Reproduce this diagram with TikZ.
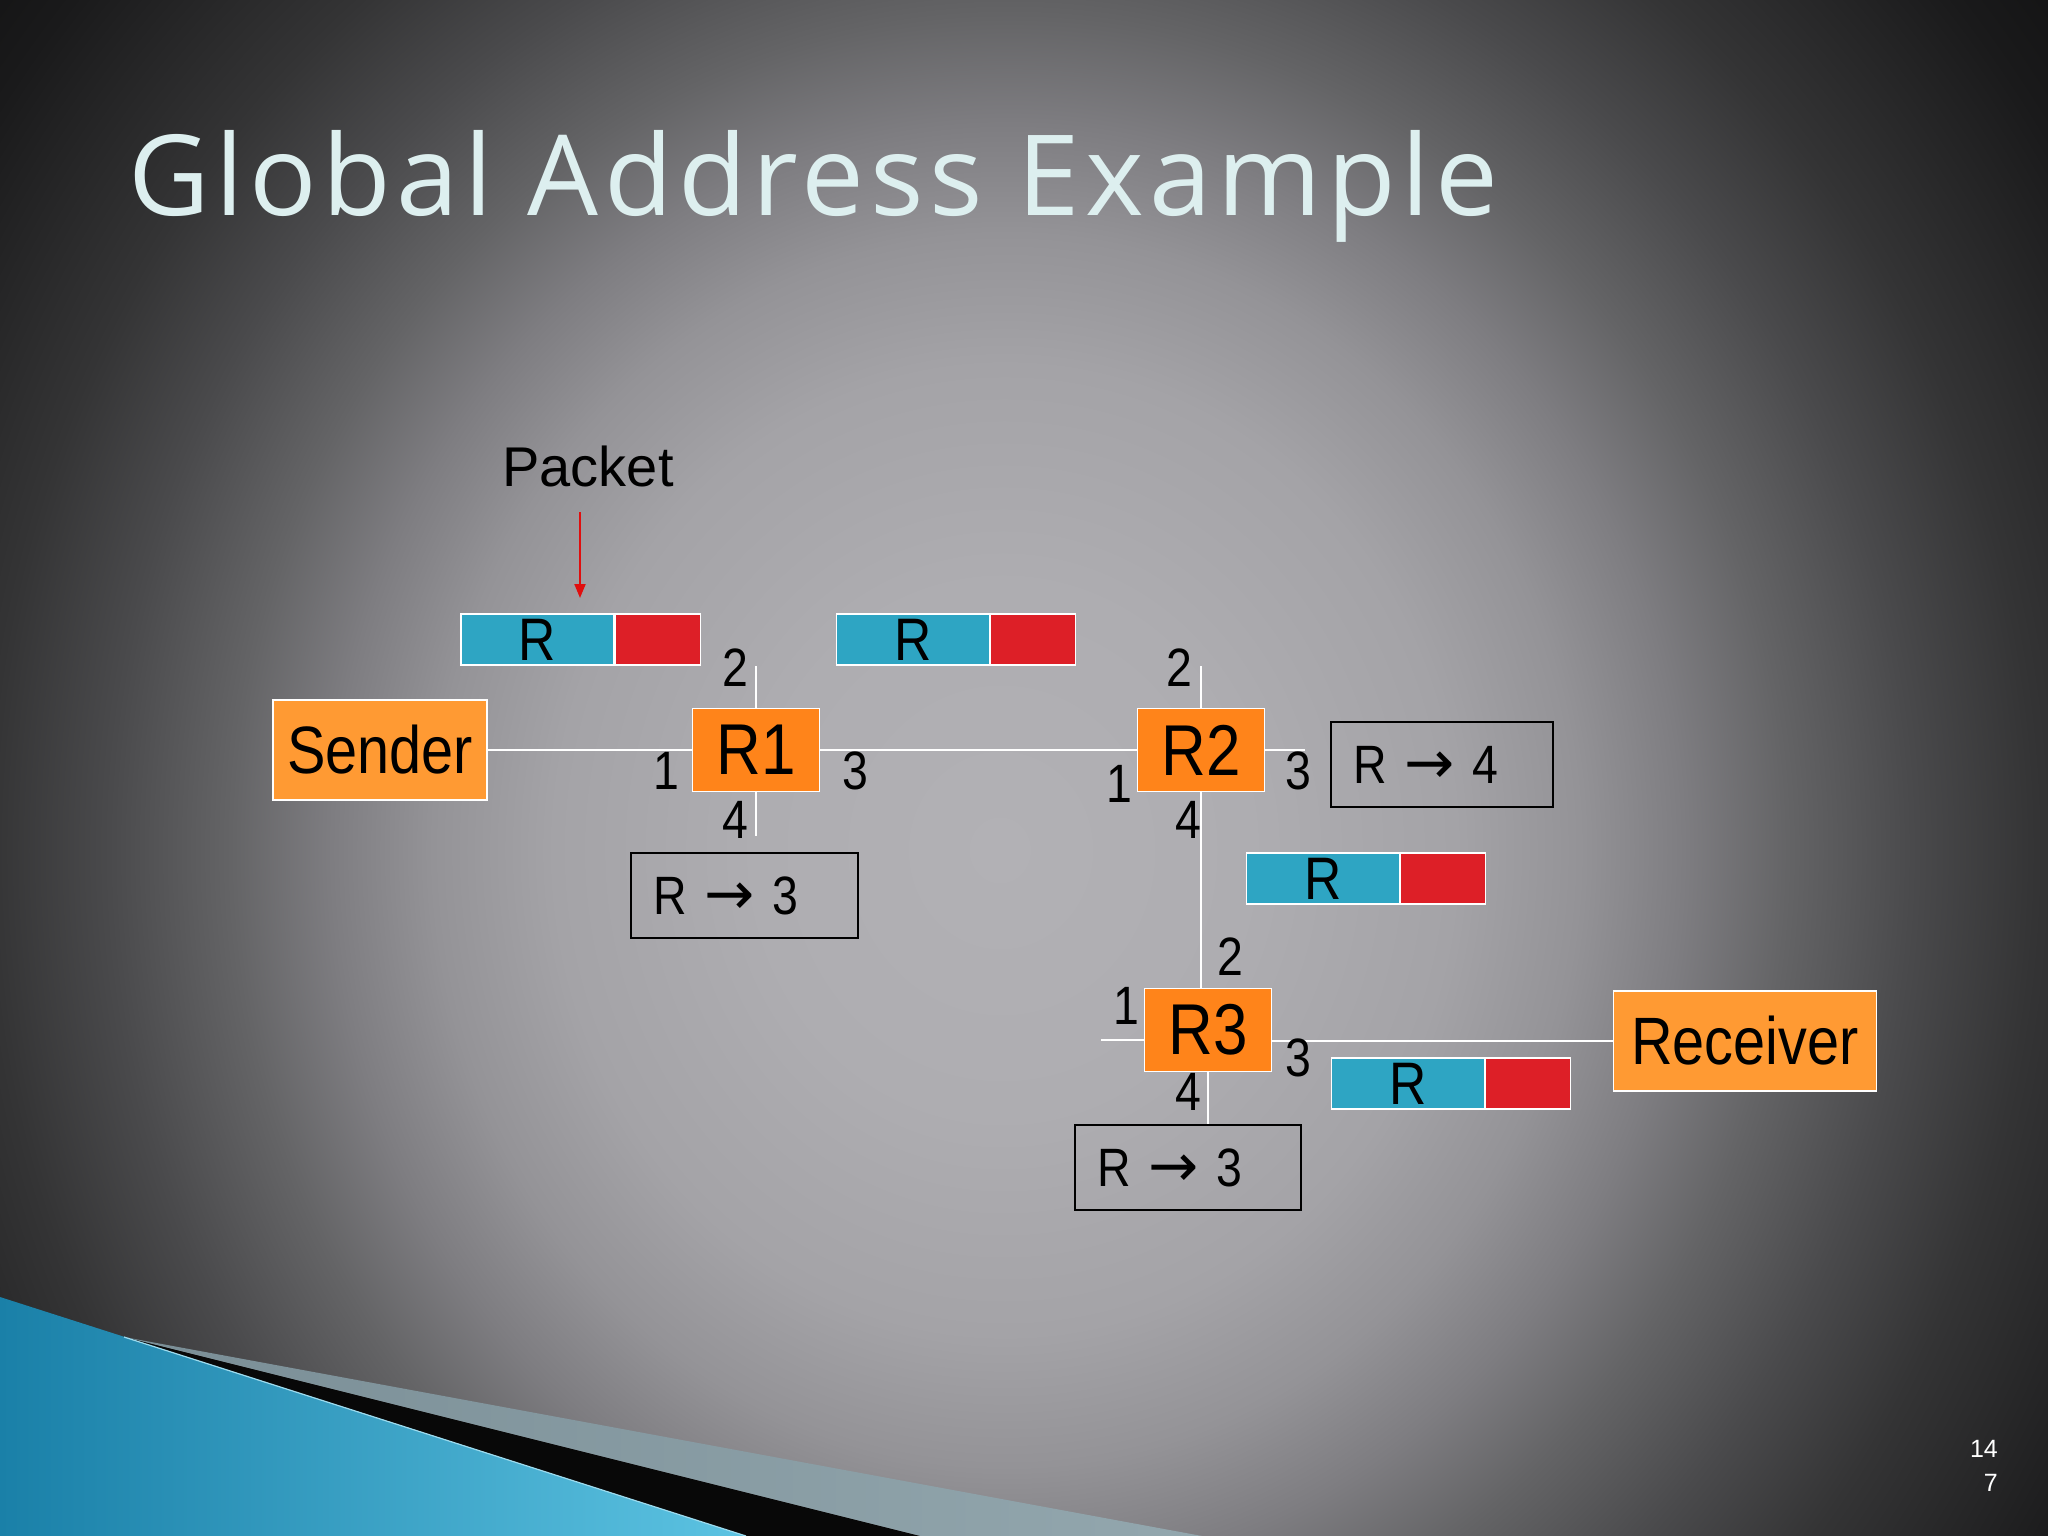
\documentclass[tikz,border=0pt]{standalone}
\usepackage{fontspec}
\setmainfont{Liberation Sans}
\newfontfamily\diafont[FakeStretch=0.86]{Liberation Sans}
\newfontfamily\plainfont{Liberation Sans}
\newfontfamily\titlefont[LetterSpace=5.0]{Open Sans}
\newfontfamily\arrowfont{DejaVu Sans}
\usetikzlibrary{arrows.meta}
\definecolor{bgc0}{HTML}{B2B1B5}
\definecolor{bgc1}{HTML}{AEADB1}
\definecolor{bgc2}{HTML}{A4A3A7}
\definecolor{bgc3}{HTML}{949397}
\definecolor{bgc4}{HTML}{7E7D81}
\definecolor{bgc5}{HTML}{646466}
\definecolor{bgc6}{HTML}{4A4A4C}
\definecolor{bgc7}{HTML}{343435}
\definecolor{bgc8}{HTML}{1A1A1B}
\definecolor{bgc9}{HTML}{080808}
\definecolor{bgc10}{HTML}{000000}
\definecolor{endorange}{HTML}{FF9A33}
\definecolor{rtorange}{HTML}{FF841A}
\definecolor{pktblue}{HTML}{2EA5C3}
\definecolor{pktred}{HTML}{DD1F27}
\definecolor{titlecol}{HTML}{DDEFEF}
\definecolor{blueA}{HTML}{1A80A8}
\definecolor{blueB}{HTML}{5CC3E2}
\definecolor{stripeA}{HTML}{7A8E96}
\definecolor{stripeB}{HTML}{93A7AE}
\definecolor{arrred}{HTML}{E00E0E}
\pgfdeclareradialshading{bgshade}{\pgfpoint{-0.6bp}{0bp}}{color(0bp)=(bgc0); color(6bp)=(bgc1); color(11bp)=(bgc2); color(14bp)=(bgc3); color(16.5bp)=(bgc4); color(19bp)=(bgc5); color(22bp)=(bgc6); color(25bp)=(bgc7); color(30bp)=(bgc8); color(36bp)=(bgc9); color(50bp)=(bgc10)}
\newcommand{\rarr}{{\arrowfont\fontsize{60}{60}\selectfont →}}
\begin{document}
\begin{tikzpicture}[x=1pt,y=-1pt,
  wire/.style={draw=white,line width=2.2pt},
  endbox/.style={draw=white,line width=1.6pt,fill=endorange,minimum width=#1,minimum height=100pt,inner sep=0pt,font=\diafont\fontsize{67}{70}\selectfont},
  router/.style={draw=white,line width=1.6pt,fill=rtorange,minimum width=127pt,minimum height=83pt,inner sep=0pt,font=\diafont\fontsize{72}{74}\selectfont},
  tbl/.style={draw=black,line width=1.8pt,minimum height=85pt,text width=#1,align=left,inner xsep=22pt,inner ysep=0pt,font=\diafont\fontsize{54}{56}\selectfont},
  pblue/.style={draw=white,line width=1.2pt,fill=pktblue,minimum width=153pt,minimum height=51pt,inner sep=0pt,font=\diafont\fontsize{60}{60}\selectfont},
  pred/.style={draw=white,line width=1.2pt,fill=pktred,minimum width=85pt,minimum height=51pt,inner sep=0pt},
  port/.style={inner sep=0pt,font=\diafont\fontsize{54}{56}\selectfont},
  redarrow/.style={draw=arrred,line width=2pt,-{Triangle[length=14pt,width=11pt]}}
]
\useasboundingbox (0,0) rectangle (2048,1536);
% background
\begin{scope}
\clip (0,0) rectangle (2048,1536);
\shade[shading=bgshade] (0,-250) rectangle (2048,1950);
\end{scope}
% bottom-left decoration
\shade[left color=stripeA,right color=stripeB] (124,1337) -- (920,1536) -- (1202,1536) -- cycle;
\fill[black!97] (124,1337) -- (746,1536) -- (920,1536) -- cycle;
\shade[left color=blueA,right color=blueB] (0,1297) -- (746,1536) -- (0,1536) -- cycle;
\draw[color=blueB!60!white,line width=1.2pt] (124,1337) -- (746,1536);

% title
\node[anchor=base west,inner sep=0pt,font=\titlefont\fontsize{112}{124}\selectfont,text=titlecol] (title) at (128,215) {Global Address Example};

% end hosts and routers
\node[endbox=214pt] (sender) at (380,750) {Sender};
\node[endbox=263pt] (receiver) at (1745,1041) {Receiver};
\node[router] (r1) at (756,750) {R1};
\node[router] (r2) at (1201,750) {R2};
\node[router] (r3) at (1208,1030) {R3};

% forwarding tables
\node[tbl=183pt] (t1) at (744.5,895.5) {R \rarr{} 3};
\node[tbl=178pt] (t2) at (1442,764.5) {R \rarr{} 4};
\node[tbl=182pt] (t3) at (1188,1167.5) {R \rarr{} 3};

% stub coordinates
\coordinate (r1up) at (756,666);
\coordinate (r1down) at (756,836);
\coordinate (r2up) at (1201,666);
\coordinate (r2right) at (1305,750);
\coordinate (r3left) at (1101,1040);

% links
\draw[wire] (sender.east) -- (r1.west);
\draw[wire] (r1.east) -- (r2.west);
\draw[wire] (r2.south) -- (r2.south |- r3.north);
\draw[wire] (r3.east |- receiver.west) -- (receiver.west);
\draw[wire] (r1.north) -- (r1up);
\draw[wire] (r1.south) -- (r1down);
\draw[wire] (r2.north) -- (r2up);
\draw[wire] (r2.east) -- (r2right);
\draw[wire] (r3left) -- (r3.west |- r3left);
\draw[wire] (r3.south) -- (r3.south |- t3.north);

% port labels
\node[port] (r1p2) at (735,668) {2};
\node[port] (r1p1) at (666,771) {1};
\node[port] (r1p3) at (855,771) {3};
\node[port] (r1p4) at (735,820) {4};
\node[port] (r2p2) at (1179,668) {2};
\node[port] (r2p1) at (1119,784) {1};
\node[port] (r2p3) at (1298,771) {3};
\node[port] (r2p4) at (1188,820) {4};
\node[port] (r3p2) at (1230,957) {2};
\node[port] (r3p1) at (1126,1006) {1};
\node[port] (r3p3) at (1298,1058) {3};
\node[port] (r3p4) at (1188,1092) {4};

% packets
\node[pblue] (p1b) at (537.5,639.5) {R};
\node[pred,anchor=west] (p1r) at (p1b.east) {};
\node[pblue] (p2b) at (913,639.5) {R};
\node[pred,anchor=west] (p2r) at (p2b.east) {};
\node[pblue] (p3b) at (1323,878.5) {R};
\node[pred,anchor=west] (p3r) at (p3b.east) {};
\node[pblue] (p4b) at (1408,1083.5) {R};
\node[pred,anchor=west] (p4r) at (p4b.east) {};

% packet label and arrow
\node[inner sep=0pt,font=\plainfont\fontsize{56}{58}\selectfont] (pktlabel) at (588,466) {Packet};
\coordinate (arrstart) at (580,512);
\coordinate (arrtip) at (580,598);
\draw[redarrow] (arrstart) -- (arrtip);

% page number
\node[anchor=north east,align=right,inner sep=0pt,text=white,font=\fontsize{25}{34}\selectfont] (pnum) at (1998,1440) {14\\7};
\end{tikzpicture}
\end{document}
